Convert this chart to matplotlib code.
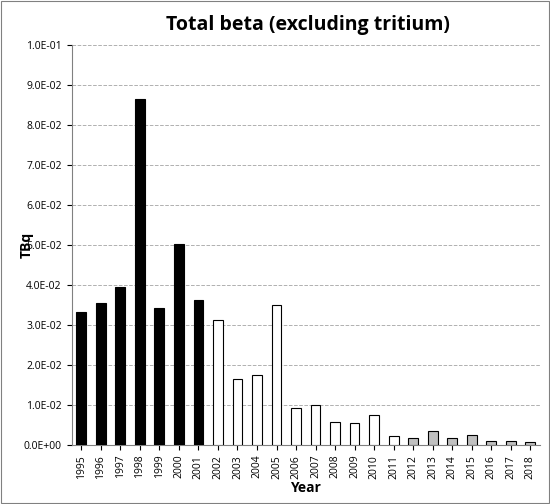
import matplotlib
matplotlib.use("Agg")
import matplotlib.pyplot as plt
from matplotlib.ticker import FuncFormatter

years = [str(y) for y in range(1995, 2019)]
values = [0.0333, 0.0355, 0.0395, 0.0865, 0.0342, 0.0503, 0.0363,
          0.0312, 0.0166, 0.0176, 0.0351, 0.0093, 0.0100, 0.0058, 0.0055, 0.0076, 0.0022,
          0.0017, 0.0035, 0.0018, 0.0025, 0.0010, 0.0010, 0.0008]
groups = ['b'] * 7 + ['w'] * 10 + ['g'] * 7
colmap = {'b': 'black', 'w': 'white', 'g': '#c0c0c0'}

plt.rcParams['font.family'] = ['Open Sans', 'DejaVu Sans']
fig = plt.figure(figsize=(5.5, 5.04), dpi=100)
ax = fig.add_axes([0.13, 0.117, 0.852, 0.794])
x = range(len(years))
ax.bar(x, values, width=0.5, color=[colmap[g] for g in groups], edgecolor='black', linewidth=0.8, zorder=3)
ax.set_xlim(-0.5, len(years) - 0.5)
ax.set_ylim(0, 0.1)
ax.set_yticks([i * 0.01 for i in range(11)])
ax.yaxis.set_major_formatter(FuncFormatter(lambda v, p: "0.0E+00" if v == 0 else f"{v:.1E}"))
ax.set_xticks(list(x))
ax.set_xticklabels(years, rotation=90, fontsize=7.5)
ax.tick_params(axis='y', labelsize=7.5)
ax.grid(axis='y', linestyle='--', color='#b0b0b0', linewidth=0.7, zorder=0)
for s in ['top', 'right']:
    ax.spines[s].set_visible(False)
ax.spines['left'].set_color('#808080')
ax.spines['bottom'].set_color('#808080')
ax.set_ylabel('TBq', fontweight='bold', fontsize=10)
ax.yaxis.set_label_coords(-0.08, 0.5)
ax.set_xlabel('Year', fontweight='bold', fontsize=10, labelpad=2)
fig.text(0.56, 0.94, 'Total beta (excluding tritium)', ha='center', fontsize=14, fontweight='bold')
fig.patches.append(plt.Rectangle((0.002, 0.002), 0.996, 0.996, transform=fig.transFigure, fill=False, edgecolor='#808080', linewidth=0.8))
fig.savefig('out.png', dpi=100)
